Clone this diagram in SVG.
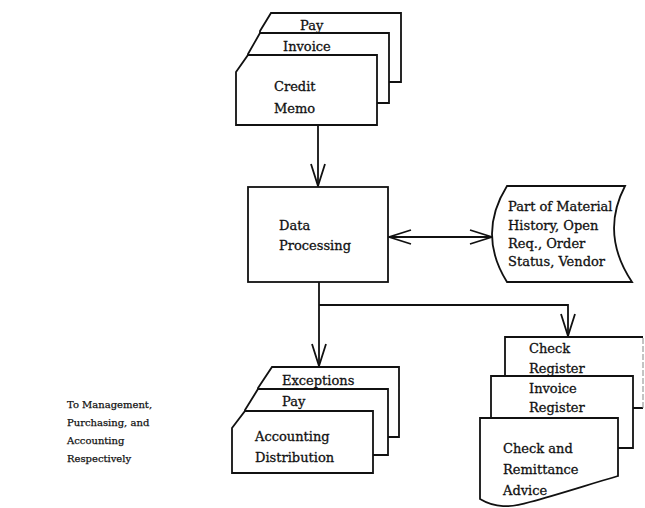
<svg xmlns="http://www.w3.org/2000/svg" width="645" height="508" viewBox="0 0 645 508">
  <style>
    .shape { fill: #ffffff; stroke: #111111; stroke-width: 1.8; stroke-linejoin: miter; }
    .edge { fill: none; stroke: #111111; stroke-width: 1.8; }
    text { font-family: "DejaVu Serif", "Liberation Serif", serif; font-size: 13px; fill: #111111; stroke: #111111; stroke-width: 0.3; }
    .note { font-size: 10px; stroke-width: 0.25; }
    .faint { stroke: #888888; stroke-width: 1; stroke-dasharray: 6 2; }
  </style>
  <defs>
    <marker id="open-arrow" markerUnits="userSpaceOnUse" markerWidth="26" markerHeight="18" viewBox="-24 -9 26 18" refX="0" refY="0" orient="auto-start-reverse">
      <path d="M-22,-7 L0,0 L-22,7" fill="none" stroke="#111111" stroke-width="1.8"/>
    </marker>
  </defs>

  <rect width="645" height="508" fill="#ffffff"/>

  <!-- connectors -->
  <g id="connectors">
    <line class="edge" x1="318" y1="125" x2="318" y2="186" marker-end="url(#open-arrow)"/>
    <line class="edge" x1="389" y1="237" x2="492" y2="237" marker-start="url(#open-arrow)" marker-end="url(#open-arrow)"/>
    <line class="edge" x1="319" y1="282" x2="319" y2="366" marker-end="url(#open-arrow)"/>
    <polyline class="edge" points="319,305 568,305 568,336" marker-end="url(#open-arrow)"/>
  </g>

  <!-- input documents: Pay / Invoice / Credit Memo -->
  <g id="input-docs">
    <path class="shape" d="M271,13 L401,13 L401,82 L260,82 L260,31 Z"/>
    <path class="shape" d="M260,33 L389,33 L389,103 L248,103 L248,54 Z"/>
    <path class="shape" d="M248,55 L377,55 L377,125 L236,125 L236,72 Z"/>
    <text x="300" y="30">Pay</text>
    <text x="283" y="51">Invoice</text>
    <text x="274" y="91">Credit</text>
    <text x="274" y="113">Memo</text>
  </g>

  <!-- process box -->
  <g id="data-processing">
    <rect class="shape" x="248" y="187" width="140" height="95"/>
    <text x="279" y="230">Data</text>
    <text x="279" y="250">Processing</text>
  </g>

  <!-- stored data -->
  <g id="stored-data">
    <path class="shape" d="M507,186 L625,186 Q600,234 632,282 L507,282 Q477,234 507,186 Z"/>
    <text x="508" y="211">Part of Material</text>
    <text x="508" y="230">History, Open</text>
    <text x="508" y="248">Req., Order</text>
    <text x="508" y="266">Status, Vendor</text>
  </g>

  <!-- output documents: Exceptions / Pay / Accounting Distribution -->
  <g id="output-docs-left">
    <path class="shape" d="M272,367 L399,367 L399,437 L258,437 L258,388 Z"/>
    <path class="shape" d="M258,389 L388,389 L388,455 L245,455 L245,410 Z"/>
    <path class="shape" d="M245,411 L373,411 L373,473 L232,473 L232,428 Z"/>
    <text x="282" y="385">Exceptions</text>
    <text x="282" y="406">Pay</text>
    <text x="255" y="441">Accounting</text>
    <text x="255" y="462">Distribution</text>
  </g>

  <!-- output documents: Check Register / Invoice Register / Check and Remittance Advice -->
  <g id="output-docs-right">
    <rect x="505" y="337" width="138" height="71" fill="#ffffff"/>
    <path class="edge" d="M505,408 L505,337 L643,337 M633,408 L643,408"/>
    <line class="faint" x1="643" y1="338" x2="643" y2="408"/>
    <path class="shape" d="M491,376 L633,376 L633,448 L491,448 Z"/>
    <path class="shape" d="M480,418 L618,418 L618,476 C590,484 560,494 530,502 C510,508 495,508 480,499 Z"/>
    <text x="529" y="353">Check</text>
    <text x="529" y="373">Register</text>
    <text x="529" y="393">Invoice</text>
    <text x="529" y="412">Register</text>
    <text x="503" y="453">Check and</text>
    <text x="503" y="474">Remittance</text>
    <text x="503" y="495">Advice</text>
  </g>

  <!-- distribution note -->
  <g id="note">
    <text class="note" x="67" y="408">To Management,</text>
    <text class="note" x="67" y="426">Purchasing, and</text>
    <text class="note" x="67" y="444">Accounting</text>
    <text class="note" x="67" y="462">Respectively</text>
  </g>
</svg>
